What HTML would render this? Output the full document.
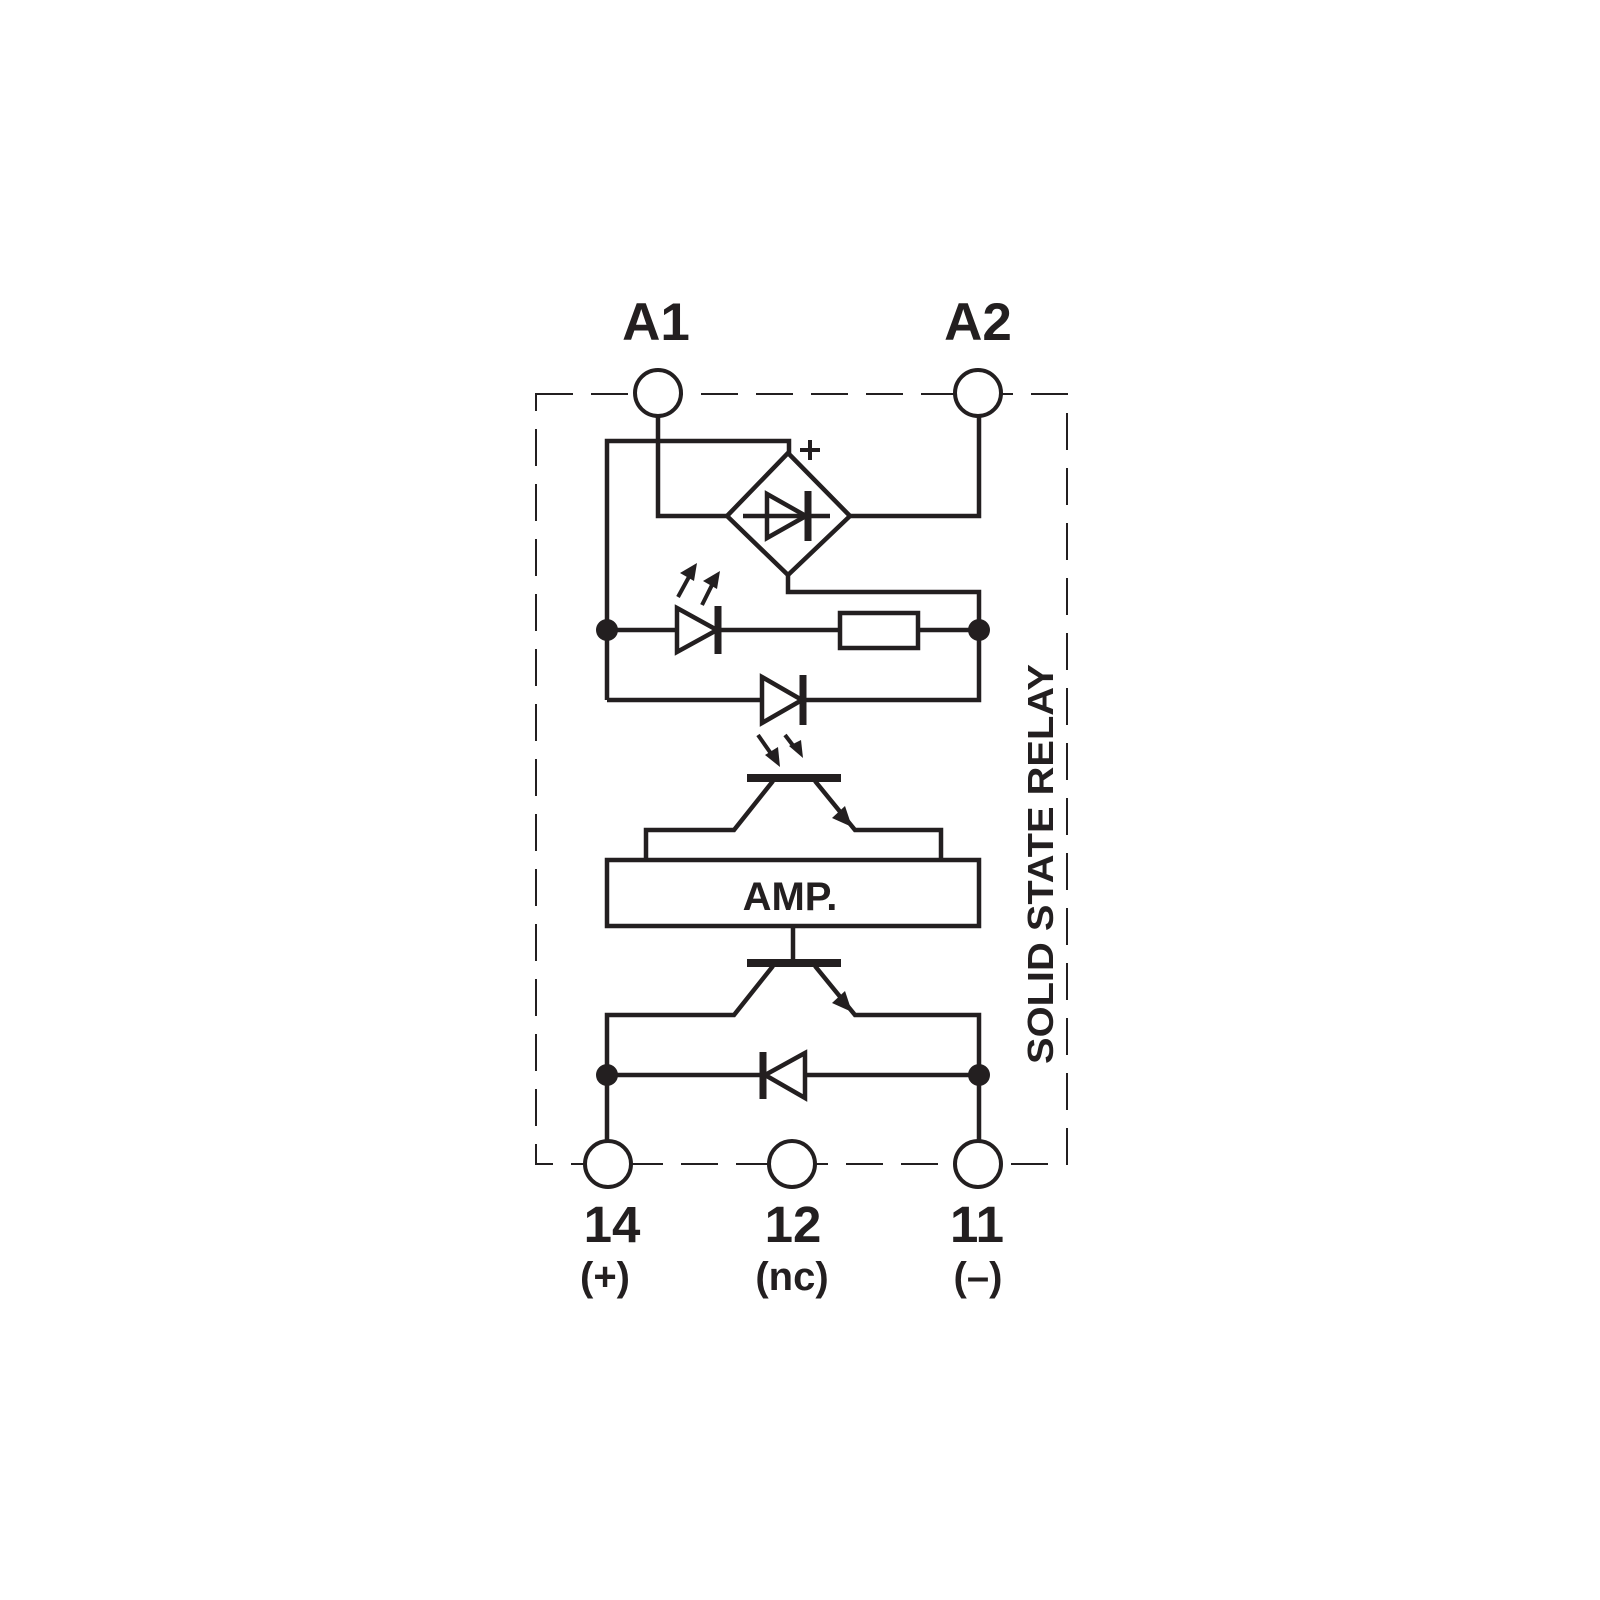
<!DOCTYPE html>
<html><head><style>body{margin:0;background:#fff}svg{display:block}</style></head><body>
<svg width="1600" height="1600" viewBox="0 0 1600 1600" xmlns="http://www.w3.org/2000/svg" font-family="Liberation Sans, sans-serif" font-weight="bold" fill="none" stroke="#231f20">
<rect width="1600" height="1600" fill="#fff" stroke="none"/>
<rect x="536" y="394" width="531" height="770" stroke-width="2" stroke-dasharray="37,18"/>
<g stroke-width="4.5">
<polyline points="658,416 658,516 727,516"/>
<polyline points="789,453 789,441 607,441 607,700"/>
<polygon points="788,453 850,516 788,575 727,516" fill="#fff"/>
<line x1="743" y1="516" x2="830" y2="516"/>
<polygon points="767,494 806,516 767,538"/>
<line x1="808" y1="491" x2="808" y2="541" stroke-width="7"/>
<polyline points="850,516 979,516 979,416"/>
<polyline points="788,575 788,592 979,592 979,700 607,700"/>
<line x1="607" y1="630" x2="979" y2="630"/>
<polygon points="677,608 717,630 677,652" fill="#fff"/>
<line x1="718" y1="606" x2="718" y2="654" stroke-width="7"/>
<rect x="840" y="613" width="78" height="35" fill="#fff"/>
<polygon points="762,677 802,700 762,723" fill="#fff"/>
<line x1="803" y1="675" x2="803" y2="725" stroke-width="7"/>
<line x1="747" y1="778" x2="841" y2="778" stroke-width="8"/>
<polyline points="773,781 734,830 646,830 646,860"/>
<polyline points="815,781 855,830 941,830 941,860"/>
<rect x="607" y="860" width="372" height="66"/>
<line x1="793" y1="926" x2="793" y2="962"/>
<line x1="747" y1="963" x2="841" y2="963" stroke-width="8"/>
<polyline points="773,966 734,1015 607,1015 607,1141"/>
<polyline points="815,966 855,1015 979,1015 979,1141"/>
<line x1="607" y1="1075" x2="979" y2="1075"/>
<polygon points="805,1053 765,1075 805,1098" fill="#fff"/>
<line x1="763" y1="1052" x2="763" y2="1099" stroke-width="7"/>
<line x1="800" y1="450" x2="820" y2="450" stroke-width="4"/>
<line x1="810" y1="440" x2="810" y2="460" stroke-width="4"/>
<line x1="678" y1="597" x2="690" y2="575" stroke-width="4"/>
<line x1="702" y1="605" x2="713" y2="583" stroke-width="4"/>
<line x1="758" y1="735" x2="772" y2="755" stroke-width="4"/>
<line x1="785" y1="735" x2="795" y2="748" stroke-width="4"/>
</g>
<g fill="#231f20" stroke="none">
<polygon points="697,563 680,573 694,581"/>
<polygon points="720,571 703,581 717,589"/>
<polygon points="780,767 765,755 778,747"/>
<polygon points="803,758 789,746 801,740"/>
<polygon points="852,827 832,818 845,806"/>
<polygon points="852,1012 832,1003 845,991"/>
<circle cx="607" cy="630" r="11"/><circle cx="979" cy="630" r="11"/>
<circle cx="607" cy="1075" r="11"/><circle cx="979" cy="1075" r="11"/>
</g>
<g stroke-width="4" fill="#fff">
<circle cx="658" cy="393" r="23"/><circle cx="978" cy="393" r="23"/>
<circle cx="608" cy="1164" r="23"/><circle cx="792" cy="1164" r="23"/><circle cx="978" cy="1164" r="23"/>
</g>
<g fill="#231f20" stroke="none" text-anchor="middle">
<text x="656" y="340" font-size="53">A1</text>
<text x="978" y="340" font-size="53">A2</text>
<text x="612" y="1242" font-size="51">14</text>
<text x="793" y="1242" font-size="51">12</text>
<text x="977" y="1242" font-size="51">11</text>
<text x="605" y="1290" font-size="40">(+)</text>
<text x="792" y="1290" font-size="40">(nc)</text>
<text x="978" y="1290" font-size="40">(–)</text>
<text x="790" y="910" font-size="40">AMP.</text>
<text x="0" y="0" font-size="36" transform="translate(1053,864) rotate(-90)" textLength="400" lengthAdjust="spacingAndGlyphs">SOLID STATE RELAY</text>
</g>
</svg>
</body></html>
